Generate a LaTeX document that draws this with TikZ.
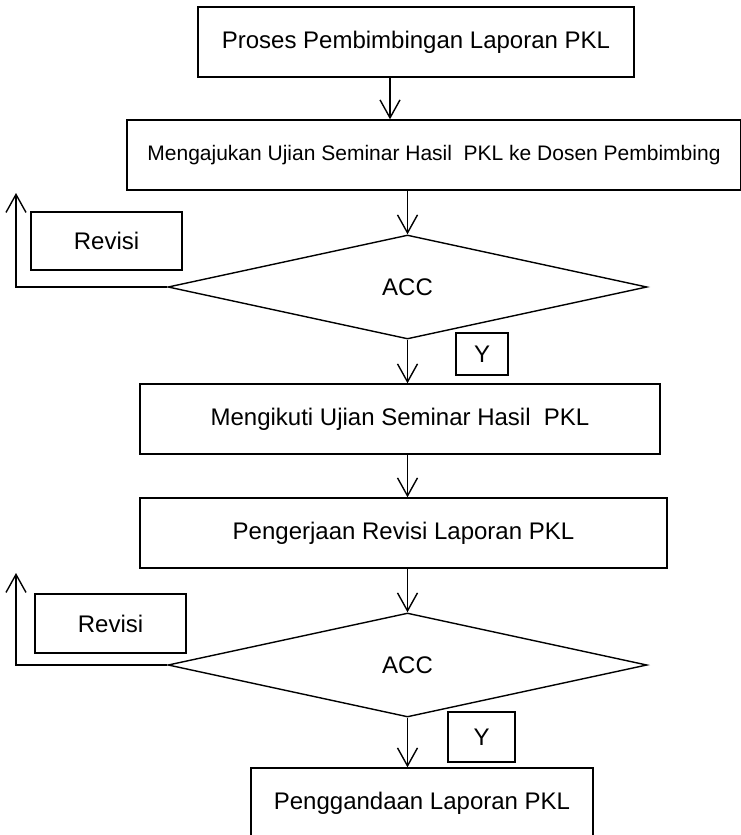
\documentclass[tikz,border=0pt]{standalone}
\usepackage{fontspec}
\setmainfont{Liberation Sans}
\usetikzlibrary{shapes.geometric,arrows.meta}

\begin{document}
\begin{tikzpicture}[x=1pt,y=-1pt,line width=1.4pt,
  font=\fontsize{24}{28}\selectfont,
  kotak/.style={draw,rectangle,inner sep=0pt},
  keputusan/.style={draw,diamond,inner sep=0pt},
  flow/.style={-{Straight Barb[length=18pt,width=20pt,line width=1.4pt]}}]
\useasboundingbox (0,0) rectangle (740,835);

% kotak proses
\node[kotak,minimum width=436pt,minimum height=70pt] (proses) at (416,42) {Proses Pembimbingan Laporan PKL};
\node[kotak,minimum width=614pt,minimum height=70pt,font=\fontsize{21}{25}\selectfont] (ajukan) at (434,155) {Mengajukan Ujian Seminar Hasil\ \ PKL ke Dosen Pembimbing};
\node[keputusan,minimum width=479pt,minimum height=104pt] (acc1) at (407.5,287) {ACC};
\node[kotak,minimum width=151pt,minimum height=58pt] (revisi1) at (106.5,241) {Revisi};
\node[kotak,minimum width=52pt,minimum height=42pt] (y1) at (482,354) {Y};
\node[kotak,minimum width=520pt,minimum height=70pt] (ikut) at (400,419) {Mengikuti Ujian Seminar Hasil\ \ PKL};
\node[kotak,minimum width=527pt,minimum height=70pt] (kerja) at (403.5,533) {Pengerjaan Revisi Laporan PKL};
\node[keputusan,minimum width=479pt,minimum height=104pt] (acc2) at (407.5,665) {ACC};
\node[kotak,minimum width=151pt,minimum height=59pt] (revisi2) at (110.5,623.5) {Revisi};
\node[kotak,minimum width=67pt,minimum height=50pt] (y2) at (481.5,737) {Y};
\node[kotak,minimum width=342pt,minimum height=70pt] (ganda) at (422,803) {Penggandaan Laporan PKL};

\coordinate (balik1) at (16,193);
\coordinate (balik2) at (16,573);

% panah
\draw[flow] ([xshift=-26pt]proses.south) -- ([xshift=-26pt]proses.south |- ajukan.north);
\draw[flow] (ajukan.south -| acc1.north) -- (acc1.north);
\draw[flow] (acc1.south) -- (ikut.north -| acc1.south);
\draw[flow] (ikut.south -| acc1.south) -- (kerja.north -| acc1.south);
\draw[flow] (kerja.south -| acc2.north) -- (acc2.north);
\draw[flow] (acc2.south) -- (ganda.north -| acc2.south);
\draw[flow] (acc1.west) -| (balik1);
\draw[flow] (acc2.west) -| (balik2);

\end{tikzpicture}
\end{document}
